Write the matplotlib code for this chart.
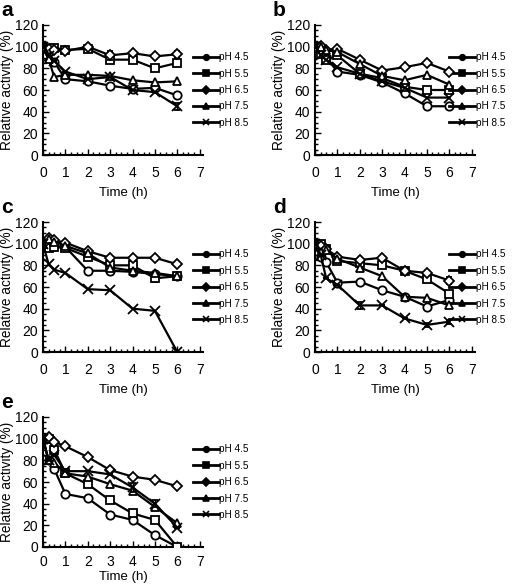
import matplotlib
matplotlib.use("Agg")
import matplotlib.pyplot as plt
from matplotlib.lines import Line2D
from matplotlib.ticker import MultipleLocator

plt.rcParams['font.family'] = ['Liberation Sans', 'DejaVu Sans']

time_h = [0, 0.25, 0.5, 1, 2, 3, 4, 5, 6]
ph_labels = ["pH 4.5", "pH 5.5", "pH 6.5", "pH 7.5", "pH 8.5"]
x_ticks = [0, 1, 2, 3, 4, 5, 6, 7]
y_ticks = [0, 20, 40, 60, 80, 100, 120]

# panel a
a_ph45 = [100, 95, 86, 70, 68, 64, 61, 62, 55]
a_ph55 = [100, 98, 99, 97, 98, 88, 88, 80, 85]
a_ph65 = [100, 98, 97, 96, 100, 92, 94, 91, 93]
a_ph75 = [100, 89, 72, 74, 74, 73, 69, 67, 68]
a_ph85 = [100, 91, 87, 77, 70, 72, 60, 58, 45]
# panel b
b_ph45 = [100, 95, 90, 77, 74, 67, 57, 45, 45]
b_ph55 = [100, 93, 88, 92, 75, 71, 63, 60, 60]
b_ph65 = [100, 101, 97, 98, 88, 78, 81, 85, 77]
b_ph75 = [100, 100, 97, 95, 84, 73, 69, 74, 65]
b_ph85 = [100, 92, 88, 81, 75, 68, 62, 53, 53]
# panel c
c_ph45 = [100, 100, 98, 97, 75, 75, 74, 72, 70]
c_ph55 = [100, 96, 97, 96, 88, 80, 80, 68, 70]
c_ph65 = [100, 105, 103, 101, 93, 87, 87, 87, 81]
c_ph75 = [100, 104, 102, 98, 91, 78, 75, 73, 70]
c_ph85 = [100, 81, 76, 73, 58, 57, 40, 38, 0]
# panel d
d_ph45 = [100, 88, 83, 64, 65, 57, 51, 42, 48]
d_ph55 = [100, 100, 95, 84, 82, 80, 75, 67, 54]
d_ph65 = [100, 98, 95, 88, 85, 87, 75, 73, 66]
d_ph75 = [100, 92, 94, 86, 78, 70, 51, 50, 43]
d_ph85 = [100, 90, 68, 62, 43, 43, 31, 25, 28]
# panel e
e_ph45 = [100, 80, 72, 49, 45, 30, 25, 11, 0]
e_ph55 = [100, 100, 90, 68, 58, 43, 31, 25, 0]
e_ph65 = [100, 102, 97, 93, 83, 71, 65, 62, 56]
e_ph75 = [100, 80, 78, 68, 65, 58, 52, 37, 22]
e_ph85 = [100, 80, 85, 70, 70, 67, 55, 40, 18]

# visible error bars (same order as time points)
a_err65 = [0, 0, 0, 0, 0, 4, 0, 0, 3]
a_err85 = [0, 0, 0, 0, 0, 0, 0, 0, 3]
c_err55 = [0, 0, 0, 0, 0, 0, 0, 3, 0]
d_err65 = [0, 0, 0, 0, 0, 0, 0, 0, 3]
d_err85 = [0, 0, 0, 0, 3, 0, 0, 2, 2]
e_err85 = [0, 0, 0, 0, 0, 0, 4, 3, 0]

panels = [
    ("a", [a_ph45, a_ph55, a_ph65, a_ph75, a_ph85], {2: a_err65, 4: a_err85}),
    ("b", [b_ph45, b_ph55, b_ph65, b_ph75, b_ph85], {}),
    ("c", [c_ph45, c_ph55, c_ph65, c_ph75, c_ph85], {1: c_err55}),
    ("d", [d_ph45, d_ph55, d_ph65, d_ph75, d_ph85], {2: d_err65, 4: d_err85}),
    ("e", [e_ph45, e_ph55, e_ph65, e_ph75, e_ph85], {4: e_err85}),
]

markers = ["o", "s", "D", "^", "x"]
msizes = [6, 6, 5, 6, 7]

W, H = 518, 586
fig = plt.figure(figsize=(W / 100, H / 100), dpi=100)

# pixel boxes: (left, y of axis zero, legend x in axes coords, tick pad, xlabel pad)
boxes = [(43, 155, 0.935, 8, 5), (315, 155, 0.84, 8, 5), (43, 352, 0.935, 8, 5),
         (315, 352, 0.84, 8, 5), (43, 547, 0.935, 6, 1)]
ax_w_px, ax_h_px = 160, 130

for (letter, series, errs), (lx, by, legx, tpad, xpad) in zip(panels, boxes):
    ax = fig.add_axes([lx / W, 1 - by / H, ax_w_px / W, ax_h_px / H])
    for i, vals in enumerate(series):
        yerr = errs.get(i)
        ax.errorbar(time_h, vals, yerr=yerr, color="black", lw=1.6,
                    marker=markers[i], ms=msizes[i], mfc="white", mec="black",
                    mew=1.3, capsize=2.5, elinewidth=1.0, capthick=1.0,
                    zorder=3 + i)
    ax.set_xlim(0, 7.15)
    ax.set_ylim(0, 120)
    ax.set_xticks(x_ticks)
    ax.set_yticks(y_ticks)
    ax.xaxis.set_minor_locator(MultipleLocator(0.25))
    ax.yaxis.set_minor_locator(MultipleLocator(5))
    ax.tick_params(which="both", direction="in", labelsize=10, width=1.0)
    ax.tick_params(axis="x", which="major", pad=tpad)
    ax.tick_params(axis="y", which="major", pad=3.5)
    ax.tick_params(which="major", length=4)
    ax.tick_params(which="minor", length=2.5)
    for s in ["top", "right"]:
        ax.spines[s].set_visible(False)
    for s in ["left", "bottom"]:
        ax.spines[s].set_linewidth(1.5)
    ax.set_xlabel("Time (h)", fontsize=9.5, labelpad=xpad)
    ax.set_ylabel("Relative activity (%)", fontsize=9.8)
    ax.yaxis.set_label_coords(-0.18, 0.5)
    handles = [Line2D([], [], color="black", lw=2.0, marker=m, ms=4,
                      mfc="black", mec="black", mew=1.2) for m in markers]
    ax.legend(handles, ph_labels, loc="upper left", bbox_to_anchor=(legx, 0.79),
              frameon=False, fontsize=7.2, handlelength=2.6, handletextpad=0.05,
              labelspacing=0.64, borderaxespad=0, borderpad=0)
    fig.text((lx - 42) / W, 1 - (by - 139) / H, letter, fontsize=15,
             fontweight="bold", ha="left", va="baseline")

fig.savefig("out.png", dpi=100)
